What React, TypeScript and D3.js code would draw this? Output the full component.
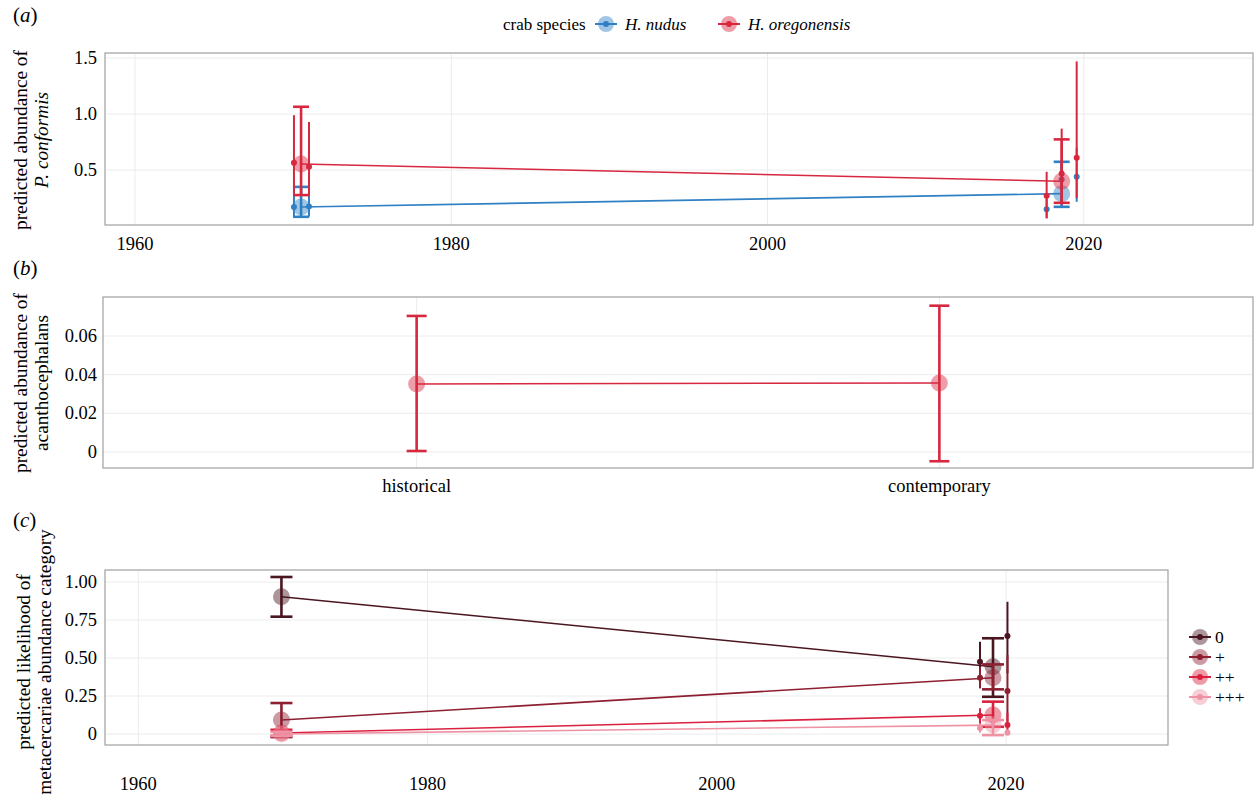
import * as d3 from "d3";

// panel (a) — P. conformis
const meanYearsA = [1970.5, 2018.6];
const siteYearsA = [1970.05, 1971.0, 2017.65, 2018.6, 2019.55];
const nudusMean = [0.17, 0.29];
const nudusLo = [0.083, 0.172];
const nudusHi = [0.35, 0.574];
const oregMean = [0.554, 0.4];
const oregLo = [0.277, 0.208];
const oregHi = [1.065, 0.774];
const nudusSite = [0.17, 0.175, 0.15, 0.415, 0.44];
const nudusSiteLo = [0.085, 0.085, 0.07, 0.2, 0.217];
const nudusSiteHi = [0.35, 0.35, 0.27, 0.6, 0.7];
const oregSite = [0.565, 0.53, 0.27, 0.47, 0.61];
const oregSiteLo = [0.29, 0.28, 0.07, 0.19, 0.25];
const oregSiteHi = [0.99, 0.93, 0.485, 0.87, 1.47];
const yTicksA = [0.5, 1.0, 1.5];

// panel (b) — acanthocephalans
const periods = ["historical", "contemporary"];
const acanMean = [0.0352, 0.0357];
const acanLo = [0.0005, -0.0048];
const acanHi = [0.0704, 0.0757];
const yTicksB = [0, 0.02, 0.04, 0.06];

// panel (c) — metacercariae category
const categories = ["0", "+", "++", "+++"];
const meanYearsC = [1969.9, 2019.1];
const siteYearsC = [2018.2, 2020.1];
const catHistMean = [0.903, 0.092, 0.007, 0.0];
const catHistLo = [0.772, -0.02, -0.012, -0.012];
const catHistHi = [1.033, 0.204, 0.028, 0.015];
const catContMean = [0.443, 0.37, 0.125, 0.059];
const catContLo = [0.245, 0.294, 0.048, -0.007];
const catContHi = [0.63, 0.458, 0.213, 0.092];
const cat2018 = [0.476, 0.37, 0.12, 0.04];
const cat2018Lo = [0.377, 0.3, 0.05, 0.01];
const cat2018Hi = [0.607, 0.44, 0.17, 0.07];
const cat2020 = [0.645, 0.283, 0.059, 0.009];
const cat2020Lo = [0.4, 0.08, 0.01, 0.0];
const cat2020Hi = [0.87, 0.52, 0.14, 0.03];
const yTicksC = [0, 0.25, 0.5, 0.75, 1.0];
const yearTicks = [1960, 1980, 2000, 2020];

const BLUE = "#2f80c4";
const RED = "#d7283f";
const catColors = ["#4a1620", "#8e1f31", "#d9213f", "#ee93a4"];
const GRID = "#ececec";
const FONT = "'Liberation Serif', 'DejaVu Serif', serif";

const xYearA = d3.scaleLinear().domain([1958.1, 2030.7]).range([105, 1253]);
const yA = d3.scaleLinear().domain([0.01, 1.545]).range([225, 53]);
const xB = d3.scalePoint<string>().domain(periods).range([103, 1253]).padding(0.6);
const yB = d3.scaleLinear().domain([-0.0083, 0.0802]).range([468, 297]);
const xYearC = d3.scaleLinear().domain([1957.7, 2031.2]).range([105, 1168]);
const yC = d3.scaleLinear().domain([-0.072, 1.079]).range([745, 570]);
const cScale = d3.scaleOrdinal<string, string>().domain(categories).range(catColors);

type Pt = { x: number; y: number; lo: number; hi: number };

const ErrorBar = ({ p, color, cap, w }: { p: Pt; color: string; cap: number; w: number }) => (
  <g stroke={color} strokeWidth={w} fill="none">
    <line x1={p.x} x2={p.x} y1={p.lo} y2={p.hi} />
    <line x1={p.x - cap / 2} x2={p.x + cap / 2} y1={p.lo} y2={p.lo} />
    <line x1={p.x - cap / 2} x2={p.x + cap / 2} y1={p.hi} y2={p.hi} />
  </g>
);

const SitePt = ({ p, color }: { p: Pt; color: string }) => (
  <g>
    <line x1={p.x} x2={p.x} y1={p.lo} y2={p.hi} stroke={color} strokeWidth={2} />
    <circle cx={p.x} cy={p.y} r={3} fill={color} />
  </g>
);

const MeanPt = ({ p, color, cap }: { p: Pt; color: string; cap: number }) => (
  <g>
    <ErrorBar p={p} color={color} cap={cap} w={2.6} />
    <circle cx={p.x} cy={p.y} r={8.5} fill={color} fillOpacity={0.45} />
  </g>
);

const Glyph = ({ x, y, color }: { x: number; y: number; color: string }) => (
  <g>
    <circle cx={x} cy={y} r={8} fill={color} fillOpacity={0.45} />
    <line x1={x - 11} x2={x + 11} y1={y} y2={y} stroke={color} strokeWidth={2} />
    <circle cx={x} cy={y} r={3} fill={color} />
  </g>
);

const Frame = ({ x0, x1, y0, y1 }: { x0: number; x1: number; y0: number; y1: number }) => (
  <rect x={x0} y={y0} width={x1 - x0} height={y1 - y0} fill="none" stroke="#a0a0a0" strokeWidth={1.2} />
);

const YTitle = ({ x, y, lines }: { x: number; y: number; lines: React.ReactNode[] }) => (
  <text transform={`translate(${x},${y}) rotate(-90)`} textAnchor="middle" fontSize={19.3}>
    {lines.map((l, i) => (
      <tspan key={i} x={0} dy={i === 0 ? 0 : 21}>
        {l}
      </tspan>
    ))}
  </text>
);

export default function App() {
  const pa = (xs: number[], ys: number[], lo: number[], hi: number[], sx: any, sy: any): Pt[] =>
    xs.map((x, i) => ({ x: sx(x), y: sy(ys[i]), lo: sy(lo[i]), hi: sy(hi[i]) }));

  const nudusM = pa(meanYearsA, nudusMean, nudusLo, nudusHi, xYearA, yA);
  const oregM = pa(meanYearsA, oregMean, oregLo, oregHi, xYearA, yA);
  const nudusS = pa(siteYearsA, nudusSite, nudusSiteLo, nudusSiteHi, xYearA, yA);
  const oregS = pa(siteYearsA, oregSite, oregSiteLo, oregSiteHi, xYearA, yA);
  const line = d3.line<Pt>().x((d) => d.x).y((d) => d.y);

  const acan = periods.map((p, i) => ({ x: xB(p)!, y: yB(acanMean[i]), lo: yB(acanLo[i]), hi: yB(acanHi[i]) }));

  const catMeans = categories.map((_, k) =>
    pa(meanYearsC, [catHistMean[k], catContMean[k]], [catHistLo[k], catContLo[k]], [catHistHi[k], catContHi[k]], xYearC, yC)
  );
  const catSites = categories.map((_, k) =>
    pa(siteYearsC, [cat2018[k], cat2020[k]], [cat2018Lo[k], cat2020Lo[k]], [cat2018Hi[k], cat2020Hi[k]], xYearC, yC)
  );

  return (
    <svg width={1255} height={796} style={{ position: "absolute", left: 0, top: 0, background: "#fff" }} fontFamily={FONT}>
      {/* ---------- (a) ---------- */}
      <text x={13} y={22} fontSize={21}>
        (<tspan fontStyle="italic">a</tspan>)
      </text>
      <g fontSize={17}>
        <text x={503} y={30}>crab species</text>
        <Glyph x={606} y={24} color={BLUE} />
        <text x={625} y={30} fontStyle="italic">H. nudus</text>
        <Glyph x={729} y={24} color={RED} />
        <text x={748} y={30} fontStyle="italic">H. oregonensis</text>
      </g>
      {yTicksA.map((t) => (
        <line key={t} x1={105} x2={1253} y1={yA(t)} y2={yA(t)} stroke={GRID} />
      ))}
      {yearTicks.map((t) => (
        <line key={t} x1={xYearA(t)} x2={xYearA(t)} y1={53} y2={225} stroke={GRID} />
      ))}
      {yTicksA.map((t) => (
        <text key={t} x={97} y={yA(t) + 6} textAnchor="end" fontSize={18.5}>
          {d3.format(".1f")(t)}
        </text>
      ))}
      {yearTicks.map((t) => (
        <text key={t} x={xYearA(t)} y={250} textAnchor="middle" fontSize={18.5}>
          {t}
        </text>
      ))}
      <YTitle x={27} y={140} lines={["predicted abundance of", <tspan fontStyle="italic">P. conformis</tspan>]} />
      <path d={line(nudusM)!} stroke={BLUE} strokeWidth={1.6} fill="none" />
      <path d={line(oregM)!} stroke={RED} strokeWidth={1.6} fill="none" />
      {nudusM.map((p, i) => (
        <MeanPt key={i} p={p} color={BLUE} cap={16} />
      ))}
      {nudusS.map((p, i) => (
        <SitePt key={i} p={p} color={BLUE} />
      ))}
      {oregM.map((p, i) => (
        <MeanPt key={i} p={p} color={RED} cap={16} />
      ))}
      {oregS.map((p, i) => (
        <SitePt key={i} p={p} color={RED} />
      ))}
      <Frame x0={105} x1={1253} y0={53} y1={225} />

      {/* ---------- (b) ---------- */}
      <text x={13} y={275} fontSize={21}>
        (<tspan fontStyle="italic">b</tspan>)
      </text>
      {yTicksB.map((t) => (
        <line key={t} x1={103} x2={1253} y1={yB(t)} y2={yB(t)} stroke={GRID} />
      ))}
      {periods.map((p) => (
        <line key={p} x1={xB(p)!} x2={xB(p)!} y1={297} y2={468} stroke={GRID} />
      ))}
      {yTicksB.map((t) => (
        <text key={t} x={97} y={yB(t) + 6} textAnchor="end" fontSize={18.5}>
          {t === 0 ? "0" : d3.format(".2f")(t)}
        </text>
      ))}
      {periods.map((p) => (
        <text key={p} x={xB(p)!} y={492} textAnchor="middle" fontSize={18.5}>
          {p}
        </text>
      ))}
      <YTitle x={27} y={383} lines={["predicted abundance of", "acanthocephalans"]} />
      <path d={line(acan)!} stroke={RED} strokeWidth={1.6} fill="none" />
      {acan.map((p, i) => (
        <MeanPt key={i} p={p} color={RED} cap={20} />
      ))}
      <Frame x0={103} x1={1253} y0={297} y1={468} />

      {/* ---------- (c) ---------- */}
      <text x={13} y={527} fontSize={21}>
        (<tspan fontStyle="italic">c</tspan>)
      </text>
      {yTicksC.map((t) => (
        <line key={t} x1={105} x2={1168} y1={yC(t)} y2={yC(t)} stroke={GRID} />
      ))}
      {yearTicks.map((t) => (
        <line key={t} x1={xYearC(t)} x2={xYearC(t)} y1={570} y2={745} stroke={GRID} />
      ))}
      {yTicksC.map((t) => (
        <text key={t} x={97} y={yC(t) + 6} textAnchor="end" fontSize={18.5}>
          {t === 0 ? "0" : d3.format(".2f")(t)}
        </text>
      ))}
      {yearTicks.map((t) => (
        <text key={t} x={xYearC(t)} y={790} textAnchor="middle" fontSize={18.5}>
          {t}
        </text>
      ))}
      <YTitle x={30} y={662} lines={["predicted likelihood of", "metacercariae abundance category"]} />
      {categories.map((c, k) => (
        <g key={c}>
          <path d={line(catMeans[k])!} stroke={cScale(c)} strokeWidth={1.6} fill="none" />
          {catSites[k].map((p, i) => (
            <SitePt key={i} p={p} color={cScale(c)} />
          ))}
          {catMeans[k].map((p, i) => (
            <MeanPt key={i} p={p} color={cScale(c)} cap={22} />
          ))}
        </g>
      ))}
      <Frame x0={105} x1={1168} y0={570} y1={745} />
      {categories.map((c, k) => (
        <g key={c}>
          <Glyph x={1200} y={637 + k * 20} color={cScale(c)} />
          <text x={1215} y={643 + k * 20} fontSize={17.5}>
            {c}
          </text>
        </g>
      ))}
    </svg>
  );
}
